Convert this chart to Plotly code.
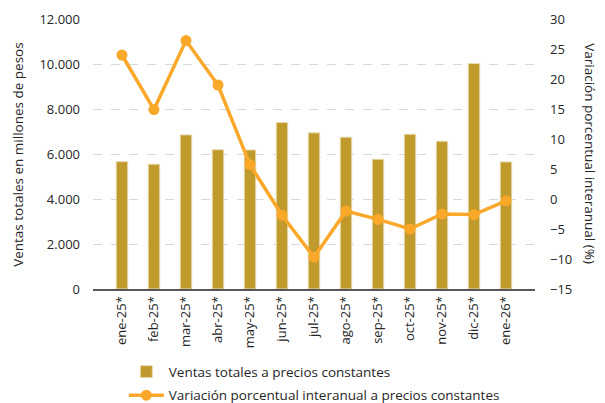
import plotly.graph_objects as go

categories = ["ene-25*", "feb-25*", "mar-25*", "abr-25*", "may-25*", "jun-25*", "jul-25*",
              "ago-25*", "sep-25*", "oct-25*", "nov-25*", "dic-25*", "ene-26*"]
ventas = [5660, 5550, 6850, 6190, 6180, 7400, 6940, 6750, 5770, 6880, 6570, 10020, 5650]
variacion = [24.0, 14.9, 26.4, 19.0, 5.7, -2.7, -9.7, -2.0, -3.4, -5.0, -2.5, -2.6, -0.3]

bar_name = "Ventas totales a precios constantes"
line_name = "Variación porcentual interanual a precios constantes"

FONT = "Open Sans"
TXT = "#262626"

fig = go.Figure()
fig.add_trace(go.Bar(
    x=categories, y=ventas, name=bar_name, legendgroup="a",
    marker=dict(color="#C09A2D", line=dict(color="#E9DDB5", width=1)),
    width=0.36, yaxis="y"))
fig.add_trace(go.Scatter(
    x=categories, y=variacion, name=line_name, mode="lines+markers", legendgroup="b",
    line=dict(color="#FAA82A", width=3.5),
    marker=dict(color="#FAA82A", size=11), yaxis="y2"))

# The page body adds an 8px offset, so the figure is sized to the visible area.
fig.update_layout(
    width=597, height=395,
    margin=dict(l=85, r=70, t=11, b=114, autoexpand=False),
    paper_bgcolor="white", plot_bgcolor="white",
    separators=",.",
    font=dict(family=FONT, size=13, color=TXT),
    showlegend=True,
    legend=dict(orientation="v", xref="container", yref="container",
                x=0.194, xanchor="left", y=0.118, yanchor="top",
                font=dict(family=FONT, size=13.5, color=TXT), itemwidth=35,
                tracegroupgap=3, bgcolor="rgba(0,0,0,0)"),
    bargap=0.6,
    xaxis=dict(tickangle=-90, showline=True, linecolor="#595959", linewidth=2,
               ticks="", showgrid=False, automargin=False,
               tickfont=dict(size=13, color=TXT)),
    yaxis=dict(range=[0, 12000], dtick=2000, tickformat=",d", showgrid=True,
               gridcolor="#D9D9D9", griddash="dash", gridwidth=1.2, zeroline=False,
               ticks="", showline=False, automargin=False, ticklabelstandoff=12,
               tickfont=dict(size=13, color=TXT)),
    yaxis2=dict(range=[-15, 30], dtick=5, overlaying="y", side="right",
                showgrid=False, zeroline=False, ticks="", showline=False,
                automargin=False, ticklabelstandoff=14,
                tickfont=dict(size=13, color=TXT)),
    annotations=[
        dict(text="Ventas totales en millones de pesos", textangle=-90,
             xref="paper", yref="paper", x=-0.170, y=0.5, showarrow=False,
             font=dict(family=FONT, size=13.5, color=TXT), xanchor="center", yanchor="middle"),
        dict(text="Variación porcentual interanual (%)", textangle=90,
             xref="paper", yref="paper", x=1.124, y=0.5, showarrow=False,
             font=dict(family=FONT, size=13.5, color=TXT), xanchor="center", yanchor="middle"),
    ],
)

fig.write_html("out.html")
